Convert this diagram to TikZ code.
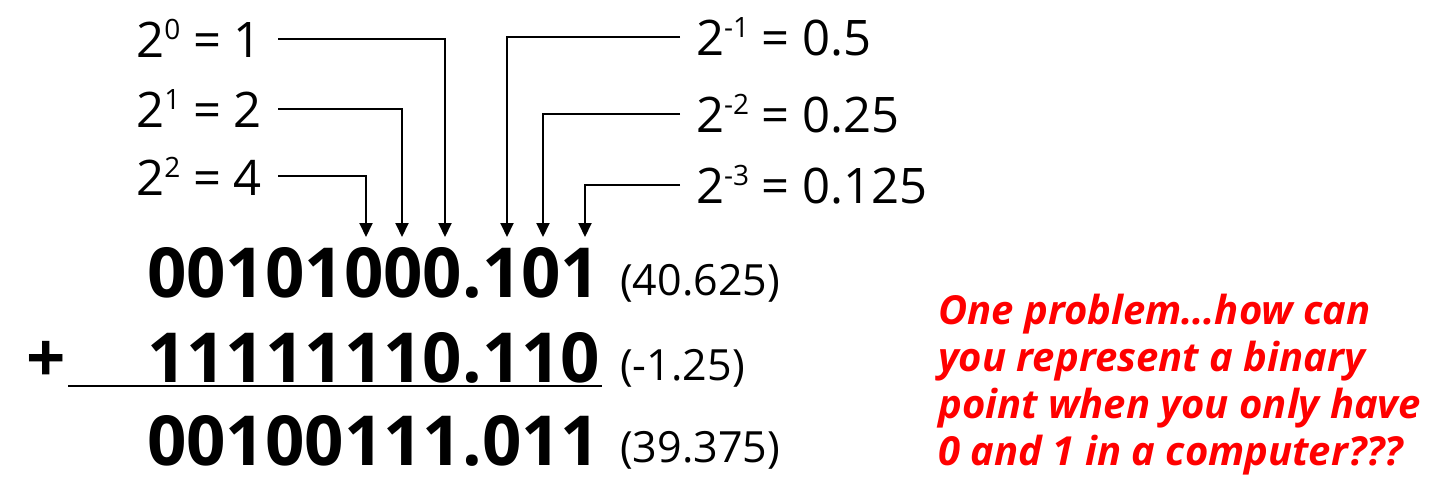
\documentclass[tikz,border=0pt]{standalone}
\usepackage{fontspec}
\setmainfont{Open Sans}
\usetikzlibrary{arrows.meta}
\newcommand{\pw}[2]{2\raisebox{18pt}{\fontsize{28}{28}\selectfont #1} = #2}

\begin{document}
\begin{tikzpicture}[x=1pt, y=-1pt,
    pow/.style={font=\fontsize{49}{49}\selectfont, inner ysep=0pt, inner xsep=16pt},
    bits/.style={font=\fontsize{69}{69}\selectfont\bfseries, inner sep=0pt, anchor=base west},
    val/.style={font=\fontsize{43}{43}\selectfont, inner sep=0pt, anchor=base west},
    note/.style={font=\fontsize{40}{46.7}\selectfont\bfseries\itshape, text=red, align=left, inner sep=0pt, anchor=base west},
    link/.style={line width=2pt, -{Triangle[width=13pt,length=14pt]}}]
    \useasboundingbox (0,0) rectangle (1443,500);

    % place values, left and right of the binary point
    \node[pow, anchor=base east] (p0) at (278,58) {\pw{0}{1}};
    \node[pow, anchor=base east] (p1) at (278,128) {\pw{1}{2}};
    \node[pow, anchor=base east] (p2) at (278,195) {\pw{2}{4}};
    \node[pow, anchor=base west] (m1) at (680,56) {\pw{-1}{0.5}};
    \node[pow, anchor=base west] (m2) at (680,133) {\pw{-2}{0.25}};
    \node[pow, anchor=base west] (m3) at (680,204) {\pw{-3}{0.125}};

    \coordinate (t0) at (445,237);
    \coordinate (t1) at (402,237);
    \coordinate (t2) at (366,237);
    \coordinate (u1) at (507,237);
    \coordinate (u2) at (543,237);
    \coordinate (u3) at (585,237);

    \foreach \a/\b in {p0/t0, p1/t1, p2/t2}
        \draw[link] (\a.east) -| (\b);
    \foreach \a/\b in {m1/u1, m2/u2, m3/u3}
        \draw[link] (\a.west) -| (\b);

    % the sum
    \node[bits] (r1) at (147,297) {00101000.101};
    \node[bits] (plus) at (26,382) {+};
    \node[bits] (r2) at (147,382) {11111110.110};
    \node[bits] (r3) at (147,465) {00100111.011};
    \draw[line width=2.5pt] (68,386) -- (602,386);

    \node[val] (v1) at (620,295) {(40.625)};
    \node[val] (v2) at (620,380) {(-1.25)};
    \node[val] (v3) at (620,462) {(39.375)};

    \node[note] (q) at (938,465) {One problem…how can\\you represent a binary\\point when you only have\\0 and 1 in a computer???};
\end{tikzpicture}
\end{document}
